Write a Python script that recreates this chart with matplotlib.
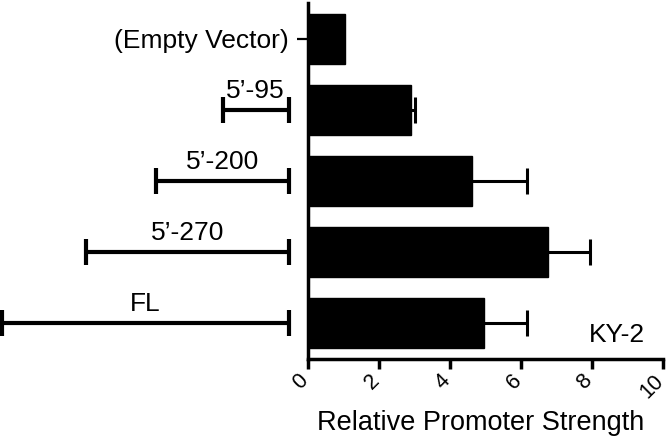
import numpy as np
import matplotlib.pyplot as plt
import matplotlib.transforms as mtransforms

plt.rcParams['font.family'] = ['Liberation Sans', 'DejaVu Sans']

constructs = ['(Empty Vector)', '5’-95', '5’-200', '5’-270', 'FL']
strength = [1.03, 2.9, 4.63, 6.76, 4.96]
err = [0.0, 0.12, 1.55, 1.17, 1.21]
# approximate construct lengths (bp) for the schematic on the left
lengths = [0, 95, 190, 290, 410]
xticks = [0, 2, 4, 6, 8, 10]

fig = plt.figure(figsize=(6.68, 4.4), dpi=100)
ax = fig.add_axes([308/668, 81/440, 355/668, 356/440])
axl = fig.add_axes([0, 81/440, 292/668, 356/440], sharey=ax)

ypos = np.arange(len(constructs))
ax.barh(ypos, strength, height=0.7, color='black', edgecolor='black')
# one-sided error bars (upper only)
s = np.array(strength)
e = np.array(err)
m = e > 0
ax.hlines(ypos[m], s[m], s[m] + e[m], color='black', linewidth=2.2)
ax.plot(s[m] + e[m], ypos[m], linestyle='none', marker='|',
        markersize=19, markeredgewidth=2.2, color='black')

ax.set_xlim(0, 10)
ax.set_ylim(4.5, -0.5)
ax.set_xticks(xticks)
ax.set_yticks([0])
ax.set_yticklabels([constructs[0]], fontsize=19)
ax.tick_params(axis='x', length=7.5, width=2.5, pad=6)
ax.tick_params(axis='y', length=8, width=1.6, pad=6)
ax.set_xticklabels([str(t) for t in xticks], rotation=45, ha='right',
                   va='center', rotation_mode='anchor', fontsize=15.5)
shift = mtransforms.ScaledTranslation(-3/100, 0, fig.dpi_scale_trans)
for lab in ax.get_xticklabels():
    lab.set_transform(lab.get_transform() + shift)
for sp in ['top', 'right']:
    ax.spines[sp].set_visible(False)
for sp in ['left', 'bottom']:
    ax.spines[sp].set_linewidth(2.5)
ax.set_xlabel('Relative Promoter Strength', fontsize=19.5)
ax.xaxis.set_label_coords(0.487, -0.143)
ax.text(9.5, 4.26, 'KY-2', ha='right', va='baseline', fontsize=19)

# construct schematic
axl.set_xlim(413, -4.3)
axl.axis('off')
for i in range(1, len(constructs)):
    L = lengths[i]
    axl.errorbar(L / 2, ypos[i], xerr=L / 2, fmt='none', ecolor='black',
                 elinewidth=3, capsize=9.4, capthick=3, clip_on=False)
    axl.text(L / 2, ypos[i] - 0.17, constructs[i], ha='center',
             va='baseline', fontsize=19)

fig.savefig('out.png', dpi=100)
